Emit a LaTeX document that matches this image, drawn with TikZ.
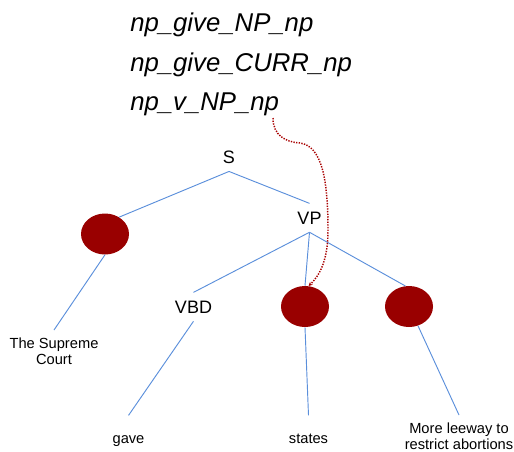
\documentclass[tikz,border=0pt]{standalone}
\usepackage{fontspec}
\setmainfont{Liberation Sans}
\usetikzlibrary{shapes.geometric,arrows.meta}
\definecolor{edgeblue}{HTML}{5B8FDB}
\definecolor{npred}{HTML}{990000}
\definecolor{linkred}{HTML}{A80000}

\begin{document}
\begin{tikzpicture}[x=0.75pt,y=-0.75pt,
  pattern/.style={anchor=base west,inner sep=0pt,font=\fontsize{19.3}{22}\selectfont\itshape},
  cat/.style={anchor=base,inner sep=6pt,font=\fontsize{13.5}{15}\selectfont},
  npdot/.style={ellipse,fill=npred,minimum width=36pt,minimum height=30.75pt,inner sep=0pt},
  leaf/.style={inner sep=6pt,align=center,font=\fontsize{11}{11.5}\selectfont},
  word/.style={leaf,anchor=base,text height=14.5pt},
  edge/.style={edgeblue,line width=0.7pt},
  link/.style={linkred,line width=1.1pt,dash pattern=on 1pt off 1pt}]
\useasboundingbox (0,0) rectangle (514,451);
\node[pattern] (pat1) at (130,31) {np\_give\_NP\_np};
\node[pattern] (pat2) at (130,71) {np\_give\_CURR\_np};
\node[pattern] (pat3) at (130,110) {np\_v\_NP\_np};
\node[cat] (S) at (229,163) {S};
\node[cat] (VP) at (309.5,224) {VP};
\node[cat] (VBD) at (193.5,313) {VBD};
\node[npdot] (np1) at (105,234) {};
\node[npdot] (np2) at (305,306.5) {};
\node[npdot] (np3) at (409,306.5) {};
\node[leaf,anchor=north] (court) at (54,330) {The Supreme\\Court};
\node[word] (gave) at (128.5,443) {gave};
\node[word] (states) at (308.5,443) {states};
\node[leaf,anchor=north] (leeway) at (459,415) {More leeway to\\restrict abortions};
\draw[edge] (S.south) -- (np1.50);
\draw[edge] (S.south) -- (VP.north);
\draw[edge] (np1.south) -- (court.north);
\draw[edge] (VP.south) -- (VBD.north);
\draw[edge] (VP.south) -- (np2.north);
\draw[edge] (VP.south) -- (np3.100);
\draw[edge] (VBD.south) -- (gave.north);
\draw[edge] (np2.south) -- (states.north);
\draw[edge] (np3.-65) -- (leeway.north);
\coordinate (vnp) at (273,118);
\draw[link,-{Stealth[length=3pt,width=3pt]}] (vnp) .. controls (273,135) and (285,142) .. (300,143)
  .. controls (322,146) and (328,180) .. (328,230)
  .. controls (328,260) and (320,275) .. (np2.80);
\end{tikzpicture}
\end{document}
